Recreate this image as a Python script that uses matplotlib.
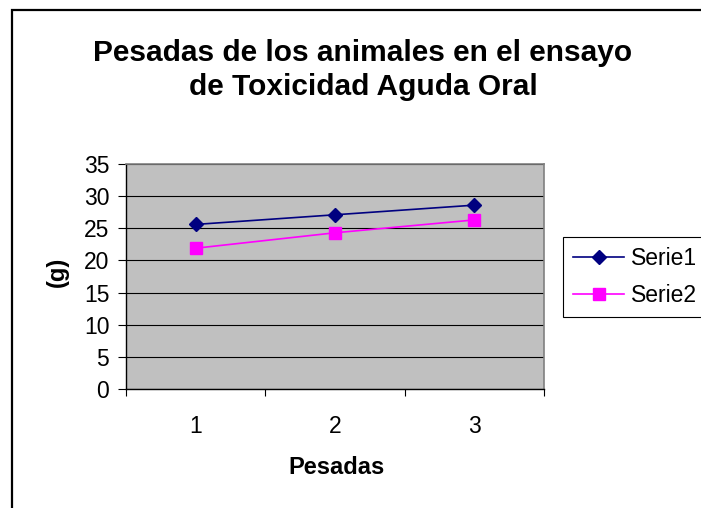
import matplotlib.pyplot as plt
from matplotlib.patches import Rectangle

plt.rcParams['font.family'] = ['Liberation Sans', 'DejaVu Sans']

# data
categories = ['1', '2', '3']
serie1 = [25.6, 27.1, 28.6]
serie2 = [21.9, 24.3, 26.3]
series_names = ['Serie1', 'Serie2']

W, H = 701, 508
fig = plt.figure(figsize=(W / 100, H / 100), dpi=100)

# outer chart frame (runs off right and bottom edges)
fig.patches.append(Rectangle((12 / W, -0.2), 1.2, 1.2 - 10 / H,
                             transform=fig.transFigure, fill=False,
                             edgecolor='black', linewidth=1.6, clip_on=False))

ax = fig.add_axes([126 / W, 1 - 389 / H, (544 - 126) / W, (389 - 164) / H])
ax.set_facecolor('#C0C0C0')

x = [i + 0.5 for i in range(len(categories))]
ax.plot(x, serie1, color='#000080', marker='D', markersize=7.5, linewidth=1.2,
        label=series_names[0])
ax.plot(x, serie2, color='#FF00FF', marker='s', markersize=8, linewidth=1.2,
        label=series_names[1])

ax.set_xlim(0, len(categories))
ax.set_ylim(0, 35)
ax.set_yticks(range(0, 36, 5))
ax.yaxis.grid(True, color='black', linewidth=0.8)
ax.set_axisbelow(True)

# category axis: ticks between categories, labels centred
ax.set_xticks(range(len(categories) + 1))
ax.set_xticklabels([])
ax.set_xticks(x, minor=True)
ax.set_xticklabels(categories, minor=True)
ax.tick_params(axis='x', which='major', length=5, width=0.8, direction='out')
ax.tick_params(axis='x', which='minor', length=0, pad=19, labelsize=16.5)
ax.tick_params(axis='y', length=6, width=0.8, pad=6, labelsize=16.5)

for side in ['top', 'right']:
    ax.spines[side].set_color('#808080')
    ax.spines[side].set_linewidth(1.2)
for side in ['left', 'bottom']:
    ax.spines[side].set_color('black')
    ax.spines[side].set_linewidth(1.0)

fig.text(363 / W, 1 - 70 / H, 'Pesadas de los animales en el ensayo\nde Toxicidad Aguda Oral',
         ha='center', va='center', fontsize=21.5, fontweight='bold', linespacing=1.3)
fig.text(337 / W, 1 - 468 / H, 'Pesadas', ha='center', va='center',
         fontsize=17, fontweight='bold')
fig.text(57 / W, 1 - 272 / H, '(g)', ha='center', va='center', rotation=90,
         fontsize=17, fontweight='bold')

leg = fig.legend(loc='upper left', bbox_to_anchor=(563 / W, 1 - 237 / H),
                 fontsize=16.5, frameon=True, fancybox=False, framealpha=1,
                 edgecolor='black', handlelength=2.2, handletextpad=0.3,
                 labelspacing=0.6, borderpad=0.45, borderaxespad=0)
leg.get_frame().set_linewidth(0.8)

fig.savefig('out.png', dpi=100)
